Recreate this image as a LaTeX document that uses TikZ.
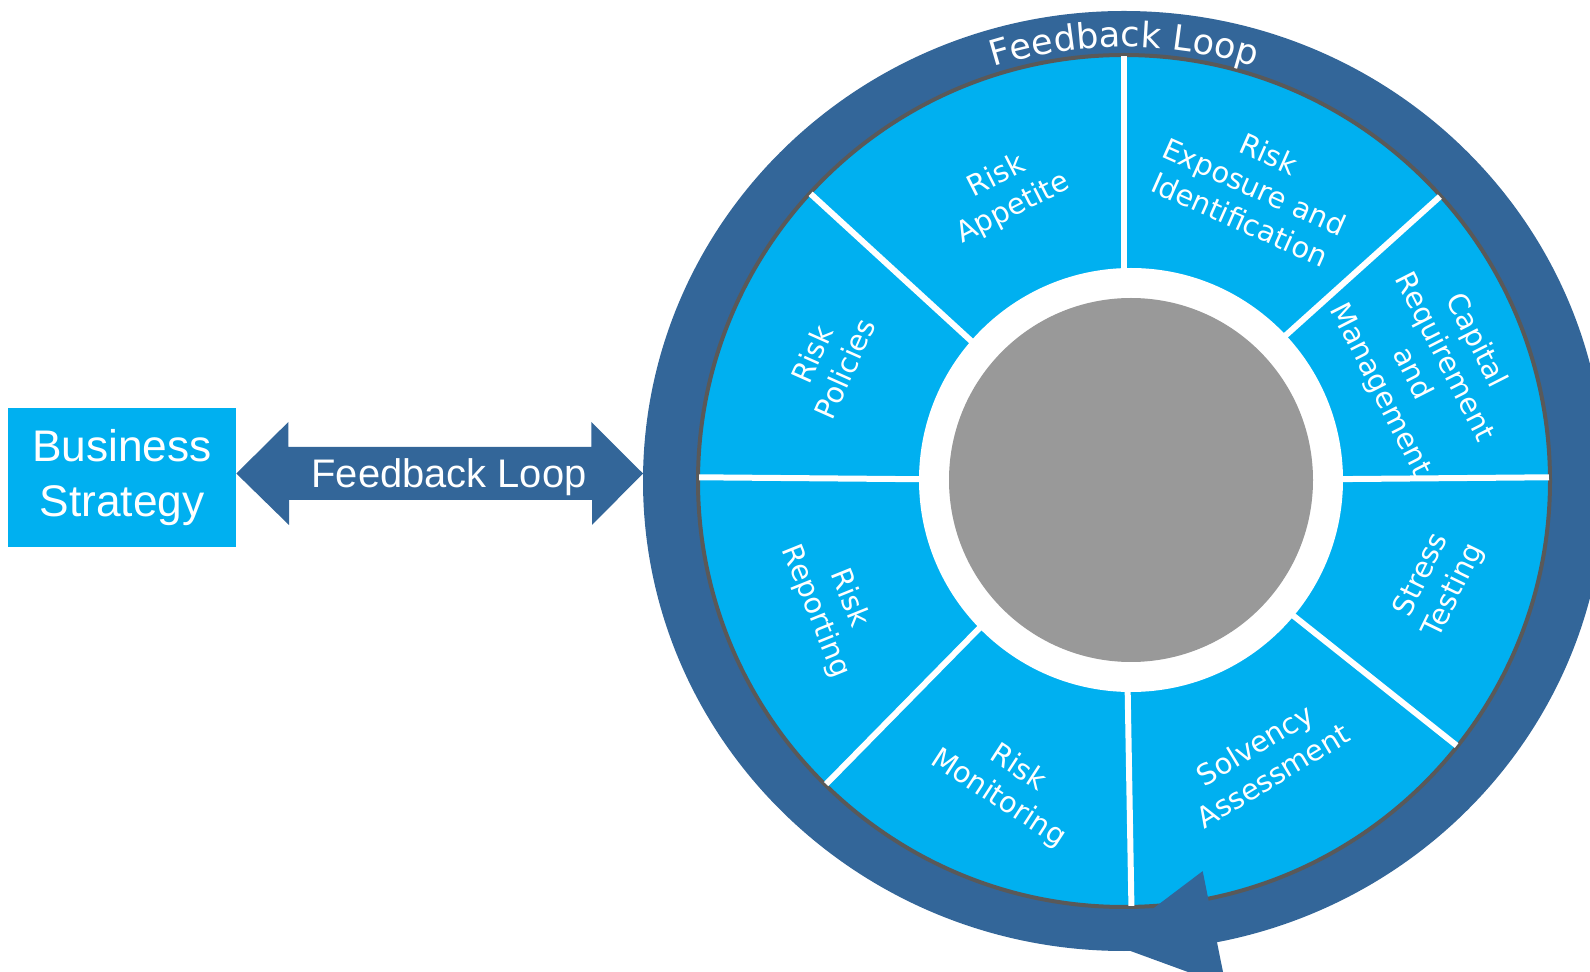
\documentclass[tikz,border=0pt]{standalone}
\usepackage{fontspec}
\newfontfamily\dejavu{DejaVu Sans}
\newfontfamily\liber{Liberation Sans}
\usetikzlibrary{calc,decorations.text}
\definecolor{lightblue}{HTML}{00B0F0}
\definecolor{ringblue}{HTML}{336699}
\definecolor{rimgray}{HTML}{595959}
\definecolor{hubgray}{HTML}{999999}
\newcommand\ringfont{\dejavu\fontsize{20}{24}\selectfont}

\begin{document}
\begin{tikzpicture}[x=0.02cm,y=0.02cm,
	box node/.style={fill=lightblue,text=white,align=center,minimum width=4.56cm,minimum height=2.78cm,inner sep=0pt,font=\liber\fontsize{25.2}{31.2}\selectfont},
	loop text/.style={text=white,inner sep=0pt,font=\liber\fontsize{22.7}{27}\selectfont},
	seg label/.style={text=white,align=center,inner sep=0pt,font=\dejavu\fontsize{16.4}{20.4}\selectfont},
	divider/.style={draw=white,line width=0.12cm}]
	
	\useasboundingbox (0,0) rectangle (1590,971);
	
	\coordinate (wheel) at (1124,490);
	\coordinate (hub) at (1131,491);
	
	\fill[ringblue] (wheel) ellipse [x radius=481, y radius=470];
	\filldraw[fill=lightblue, draw=rimgray, line width=0.08cm] (wheel) circle [radius=426];
	\fill[white] (hub) circle [radius=212];
	\fill[hubgray] (hub) circle [radius=182];
	
	\foreach \a in {0.5,42,90,137.5,179.5,225.5,271,321.5}
		\draw[divider] ($(wheel)+(\a:205)$) -- ($(wheel)+(\a:425)$);
	
	\node[seg label, rotate=27] (appetite) at ($(wheel)+(112.4:312)$) {Risk\\Appetite};
	\node[seg label, rotate=-24] (exposure) at ($(wheel)+(66.1:322)$) {Risk\\Exposure and\\Identification};
	\node[seg label, rotate=-63] (capital) at ($(wheel)+(20.8:325)$) {Capital\\Requirement\\and\\Management};
	\node[seg label, rotate=64] (stress) at ($(wheel)+(-18:330)$) {Stress\\Testing};
	\node[seg label, rotate=31] (solvency) at ($(wheel)+(-63.4:312)$) {Solvency\\Assessment};
	\node[seg label, rotate=-33] (monitoring) at ($(wheel)+(249:324)$) {Risk\\Monitoring};
	\node[seg label, rotate=-68] (reporting) at ($(wheel)+(203:317)$) {Risk\\Reporting};
	\node[seg label, rotate=66] (policies) at ($(wheel)+(158:319)$) {Risk\\Policies};
	
	\fill[ringblue] ($(wheel)+(-78.6:398)$) -- ($(wheel)+(-92:462)$) -- ($(wheel)+(-78.6:515)$) -- cycle;
	
	\path[decorate, decoration={text along path, text align=center, text color=white, text={|\ringfont|Feedback Loop}}]
	($(wheel)+(114:434)$) arc[start angle=114, end angle=66, radius=434];
	
	\node[box node] (strategy) at (122,493.5) {Business\\Strategy};
	
	\coordinate (fbL) at ([yshift=0.08cm]strategy.east);
	\coordinate (fbR) at ($(wheel)+(-481,7.5)$);
	\fill[ringblue] (fbL) -- ++(52,51.5) -- ++(0,-25) -- ++(303,0) -- ++(0,25) -- (fbR)
	-- ++(-51,-51.5) -- ++(0,25) -- ++(-303,0) -- ++(0,-25) -- cycle;
	\node[loop text, anchor=base] (fbtext) at (449,483) {Feedback Loop};
	
\end{tikzpicture}
\end{document}
